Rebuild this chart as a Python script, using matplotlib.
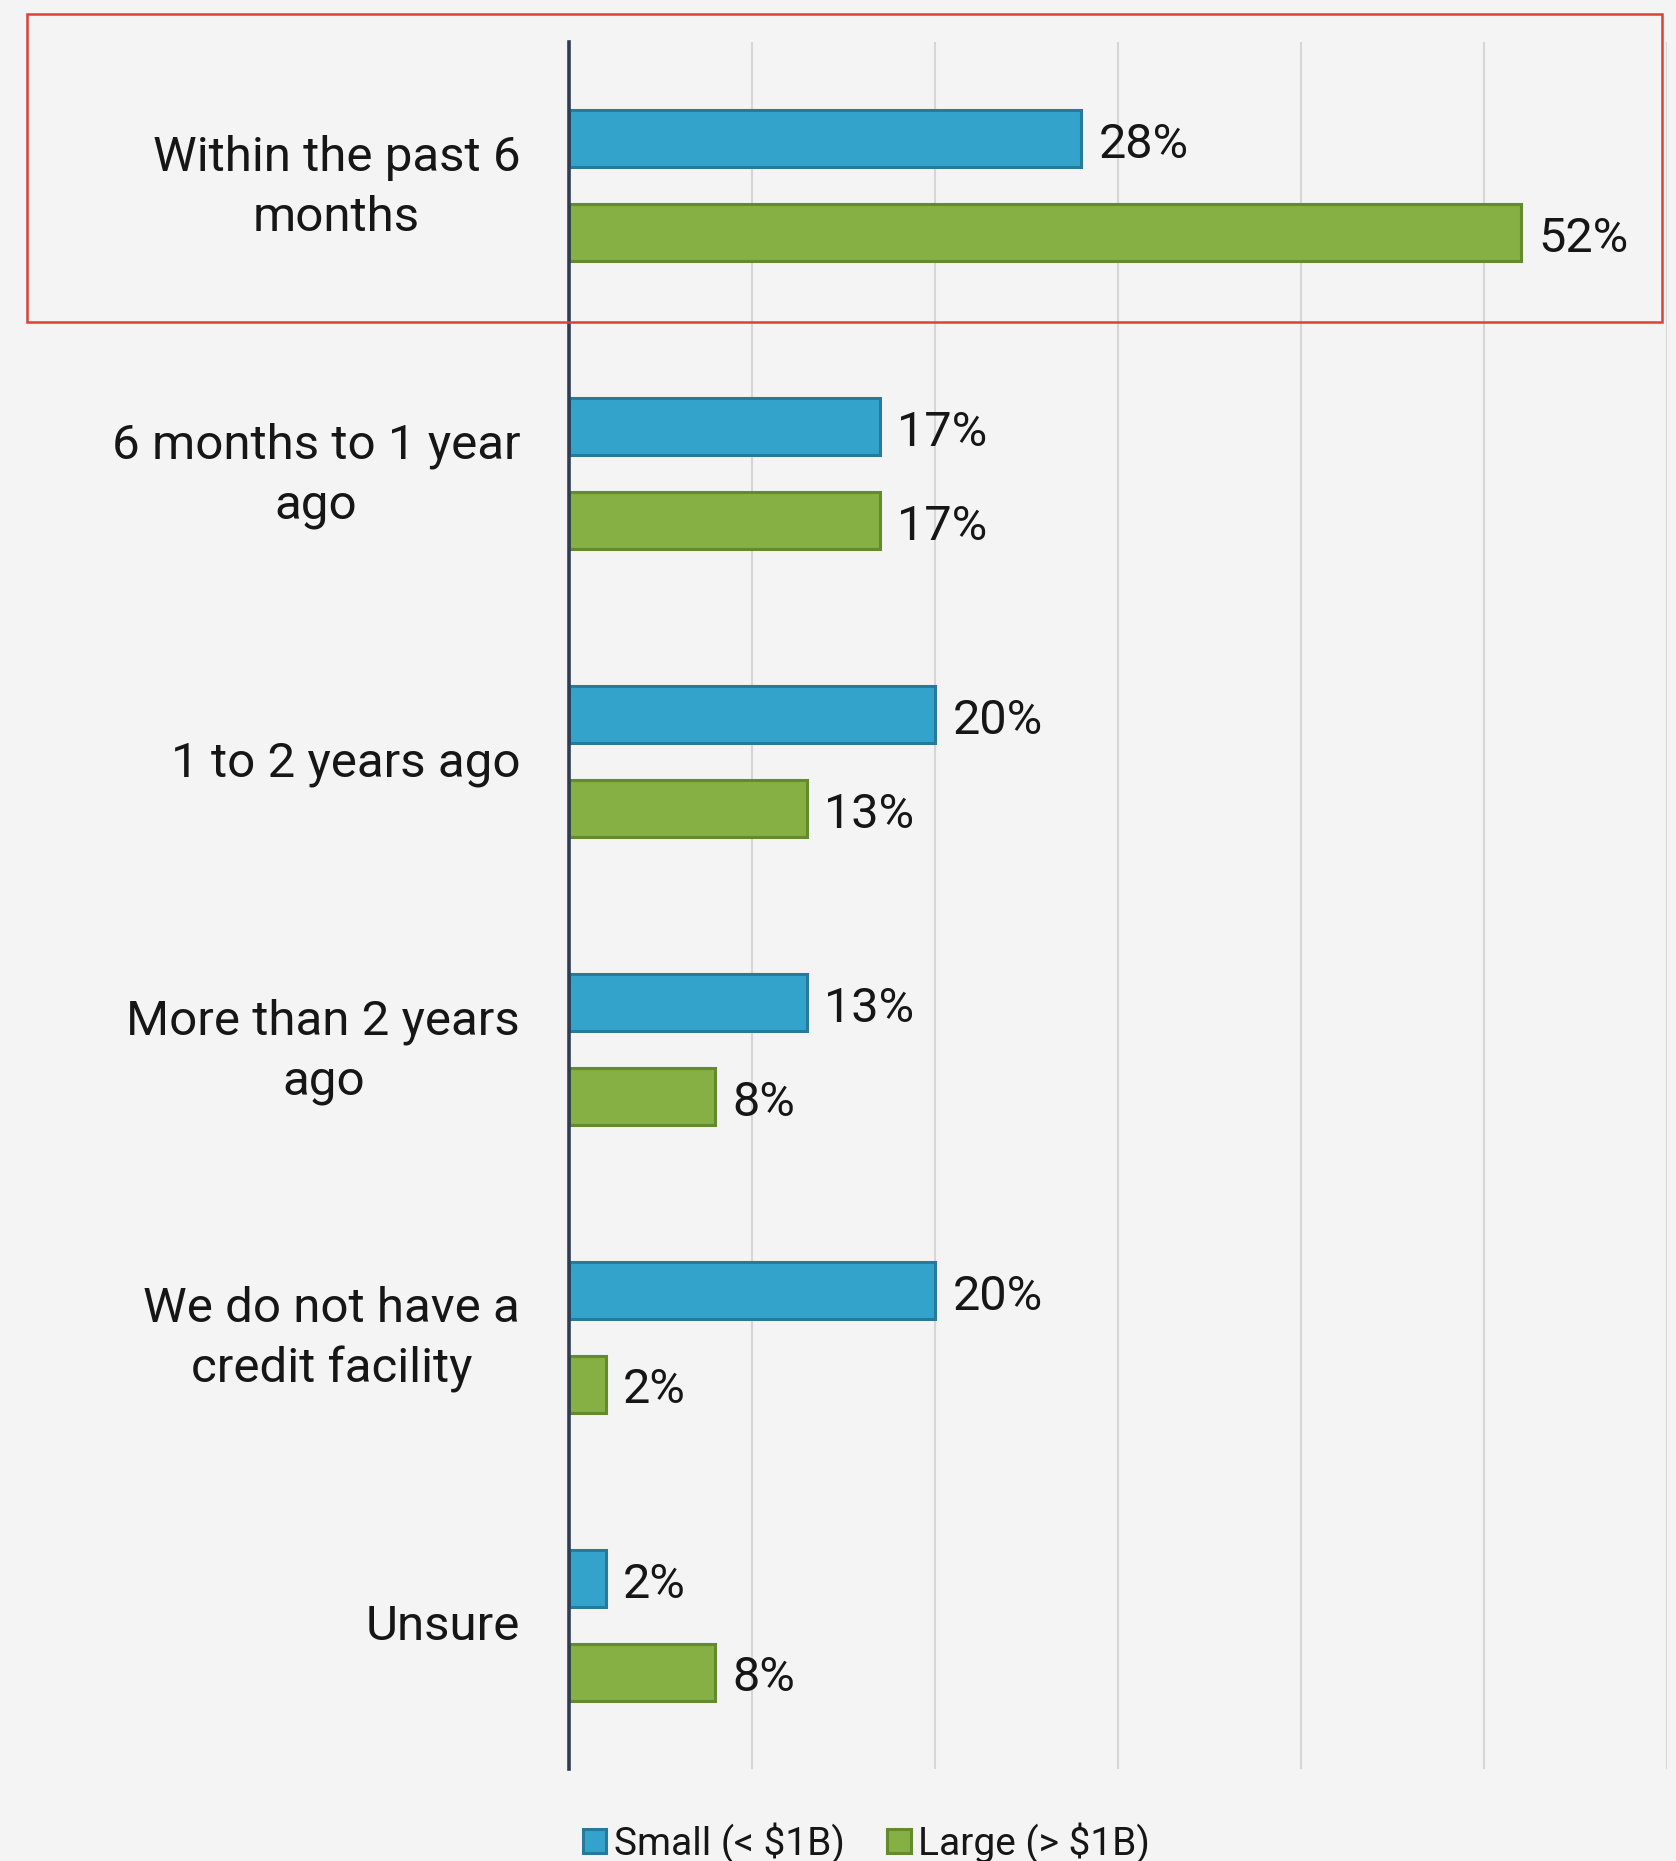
import numpy as np
import matplotlib.pyplot as plt
from matplotlib.patches import Rectangle

# survey answers, small vs large companies (percent)
categories = ["Within the past 6\nmonths", "6 months to 1 year\nago", "1 to 2 years ago",
              "More than 2 years\nago", "We do not have a\ncredit facility", "Unsure"]
small = [28, 17, 20, 13, 20, 2]
large = [52, 17, 13, 8, 2, 8]
series_names = ["Small (< $1B)", "Large (> $1B)"]

bg = "#f4f4f4"
blue, blue_edge = "#34a3cc", "#287a9b"
green, green_edge = "#86b043", "#648a2e"
txt = "#161616"

plt.rcParams['font.family'] = ['Roboto', 'DejaVu Sans']

fig = plt.figure(figsize=(16.76, 18.61), dpi=100, facecolor=bg)
ax = fig.add_axes([0.3395, 0.0494, 0.9946 - 0.3395, 0.9777 - 0.0494])
ax.set_facecolor(bg)

y = np.arange(len(categories))
off = 0.163
h = 0.198
b1 = ax.barh(y - off, small, height=h, color=blue, edgecolor=blue_edge, linewidth=2.2,
             label=series_names[0], zorder=3)
b2 = ax.barh(y + off, large, height=h, color=green, edgecolor=green_edge, linewidth=2.2,
             label=series_names[1], zorder=3)

for bars, vals in ((b1, small), (b2, large)):
    for rect, v in zip(bars, vals):
        ax.text(v + 0.95, rect.get_y() + rect.get_height() / 2 + 0.022, f"{v}%",
                va='center', ha='left', fontsize=35, color=txt)

ax.set_xlim(0, 60)
ax.set_ylim(len(categories) - 0.5, -0.5)
ax.set_xticks(np.arange(10, 61, 10))
ax.xaxis.grid(True, color="#d6d6d6", linewidth=1.5, zorder=0)
ax.tick_params(left=False, bottom=False, labelbottom=False, labelleft=False)
for s in ax.spines.values():
    s.set_visible(False)
ax.axvline(0, color="#2e3d52", linewidth=2.6, zorder=5, clip_on=False)

for yi, cat in zip(y, categories):
    ax.text(-2.67, yi + 0.008, cat, ha='right', va='center', multialignment='center',
            fontsize=35.5, color=txt, linespacing=1.38)

fig.legend(handles=[b1, b2], labels=series_names, loc='center',
           bbox_to_anchor=(0.517, 0.0097), ncol=2, frameon=False, fontsize=28,
           handlelength=0.6, handleheight=0.6, handletextpad=0.2,
           columnspacing=1.1, labelcolor=txt)

# highlight around the first answer
fig.add_artist(Rectangle((0.0161, 0.827), 0.9916 - 0.0161, 0.9925 - 0.827,
                         transform=fig.transFigure, fill=False,
                         edgecolor="#d9413a", linewidth=1.8, zorder=10))

fig.savefig("out.png", dpi=100, facecolor=bg)
